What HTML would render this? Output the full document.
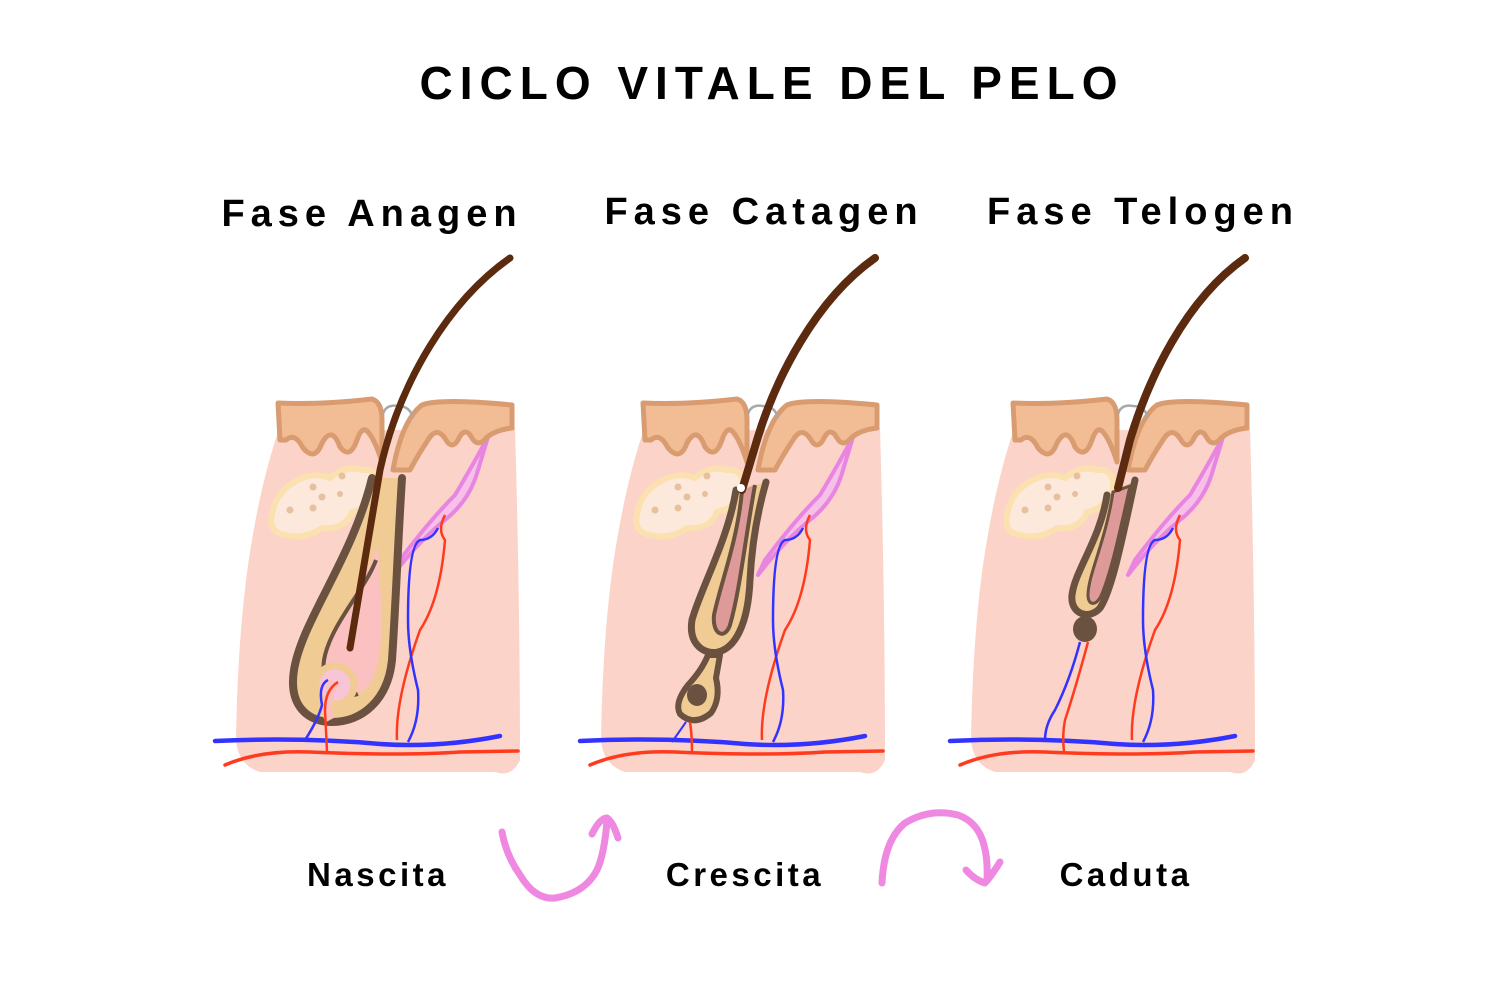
<!DOCTYPE html>
<html><head><meta charset="utf-8"><style>
html,body{margin:0;padding:0;background:#fff;width:1500px;height:1000px;overflow:hidden}
svg{display:block}
text{font-family:"Liberation Sans",sans-serif;font-weight:bold;fill:#000}
</style></head><body>
<svg width="1500" height="1000" viewBox="0 0 1500 1000" xmlns="http://www.w3.org/2000/svg">
<defs>
<g id="base">
  <path d="M278,432 L515,428 Q520,600 520,760 Q512,778 495,772 L260,772 Q238,765 236,740 Q238,620 252,540 Q262,480 278,432 Z" fill="#fcd3c8"/>
  <path d="M290,485 Q310,470 330,478 Q345,465 362,470 Q380,468 378,490 Q368,510 352,512 Q345,530 322,528 Q305,540 285,535 Q268,532 272,515 Q275,495 290,485 Z" fill="#fde9dc" stroke="#fbe0b0" stroke-width="6"/>
  <g fill="#e6c09f"><circle cx="313" cy="487" r="3.5"/><circle cx="342" cy="476" r="3.5"/><circle cx="322" cy="497" r="3.5"/><circle cx="340" cy="494" r="3"/><circle cx="290" cy="510" r="3.5"/><circle cx="313" cy="508" r="3.5"/></g>
  <path d="M488,437 Q470,470 455,495 Q430,520 400,560 L393,575 Q420,540 445,520 Q470,500 478,470 Z" fill="#f7c0e8" stroke="#e885e0" stroke-width="4" stroke-linejoin="round"/>
  <path d="M445,515 Q437,530 445,540 Q440,600 420,630 Q395,700 397,740" fill="none" stroke="#ff3b1f" stroke-width="2.5"/>
  <path d="M438,528 Q432,540 420,540 Q408,545 408,620 Q408,650 418,690 Q420,720 408,742" fill="none" stroke="#3333ff" stroke-width="2.5"/>
  <path d="M215,741 Q300,737 380,744 Q440,748 500,736" fill="none" stroke="#3333ff" stroke-width="4.5" stroke-linecap="round"/>
  <path d="M225,765 Q260,750 310,752 Q400,756 460,752 L518,751" fill="none" stroke="#ff3b1f" stroke-width="3.5" stroke-linecap="round"/>
  <path d="M278,403 Q320,405 372,399 Q382,402 382,420 L382,462 Q375,440 368,432 Q362,425 357,440 Q350,460 340,447 Q332,425 322,443 Q315,462 303,448 Q295,432 286,440 L280,440 Z" fill="#f2bd94" stroke="#d99b70" stroke-width="5" stroke-linejoin="round"/>
  <path d="M393,470 Q402,420 422,405 Q440,398 512,405 L512,428 Q495,430 486,438 Q478,448 472,438 Q465,425 458,440 Q452,450 446,440 Q437,425 428,440 Q418,455 410,470 Z" fill="#f2bd94" stroke="#d99b70" stroke-width="5" stroke-linejoin="round"/>
  <path d="M383,414 Q386,404 398,406 Q410,406 413,418" fill="none" stroke="#a8a8a8" stroke-width="2.5"/>
</g>
</defs>

<text x="772" y="99" font-size="46" text-anchor="middle" letter-spacing="7">CICLO VITALE DEL PELO</text>
<text x="372" y="226" font-size="38" text-anchor="middle" letter-spacing="6">Fase Anagen</text>
<text x="764" y="224" font-size="38" text-anchor="middle" letter-spacing="6">Fase Catagen</text>
<text x="1143" y="224" font-size="38" text-anchor="middle" letter-spacing="6">Fase Telogen</text>

<!-- Panel 1 -->
<use href="#base"/>
<path d="M372,478 C352,560 302,620 294,670 C288,708 310,722 332,722 C362,722 388,700 392,660 C396,600 398,540 402,478 Z" fill="#f0cc94"/>
<path d="M372,478 C352,560 302,620 294,670 C288,708 310,722 332,722 C362,722 388,700 392,660 C396,600 398,540 402,478" fill="none" stroke="#6b5240" stroke-width="8" stroke-linecap="round"/>
<path d="M378,545 C362,590 330,625 324,660 C320,690 340,700 358,694 C376,686 381,660 382,620 Z" fill="#fbc0c0"/>
<path d="M376,560 C365,590 330,625 324,660 C320,690 340,700 358,694" fill="none" stroke="#6b5240" stroke-width="4"/>
<circle cx="335" cy="685" r="19" fill="#f8c4d8" stroke="#f0cc94" stroke-width="7"/>
<path d="M330,720 Q322,705 335,682" fill="none" stroke="#fbc0c0" stroke-width="10"/>
<path d="M328,680 Q318,685 322,705 Q318,720 305,740" fill="none" stroke="#3333ff" stroke-width="2.5"/>
<path d="M338,682 Q325,690 325,710 L327,752" fill="none" stroke="#ff3b1f" stroke-width="2.5"/>
<path d="M510,258 C450,300 400,380 380,470 L350,648" fill="none" stroke="#5c2a0e" stroke-width="7" stroke-linecap="round"/>

<!-- Panel 2 -->
<use href="#base" transform="translate(365,0)"/>
<path d="M736,490 C728,540 700,590 692,620 C688,645 705,655 718,652 C735,648 748,625 750,580 C752,540 758,510 766,482 Z" fill="#f0cc94"/>
<path d="M736,490 C728,540 700,590 692,620 C688,645 705,655 718,652 C735,648 748,625 750,580 C752,540 758,510 766,482" fill="none" stroke="#6b5240" stroke-width="7" stroke-linecap="round"/>
<path d="M742,490 C738,540 720,585 714,615 C712,635 725,640 730,625 C740,590 745,540 755,485 Z" fill="#dd9a98"/>
<path d="M742,490 C738,540 720,585 714,615 C712,635 725,640 730,625 C740,590 745,540 755,485" fill="none" stroke="#6b5240" stroke-width="4"/>
<path d="M708,655 Q702,670 688,685 Q674,703 680,714 Q694,727 711,713 Q721,699 716,678 L720,655 Z" fill="#f0cc94" stroke="#6b5240" stroke-width="6" stroke-linejoin="round"/>
<ellipse cx="697" cy="695" rx="10" ry="11" fill="#6b5240"/>
<path d="M686,722 L672,742" stroke="#3333ff" stroke-width="2" fill="none"/>
<path d="M690,722 Q692,735 692,752" stroke="#ff3b1f" stroke-width="2.5" fill="none"/>
<path d="M875,258 C815,300 775,380 757,440 L742,490" fill="none" stroke="#5c2a0e" stroke-width="8" stroke-linecap="round"/>
<circle cx="741" cy="488" r="4" fill="#fff"/>

<!-- Panel 3 -->
<use href="#base" transform="translate(735,0)"/>
<path d="M1107,495 C1100,540 1075,570 1072,595 C1070,615 1090,620 1100,608 C1112,590 1122,540 1135,480 Z" fill="#f0cc94"/>
<path d="M1107,495 C1100,540 1075,570 1072,595 C1070,615 1090,620 1100,608 C1112,590 1122,540 1135,480" fill="none" stroke="#6b5240" stroke-width="7" stroke-linecap="round"/>
<path d="M1113,492 C1106,540 1088,575 1088,595 C1088,606 1096,606 1101,596 C1112,570 1120,530 1130,486 Z" fill="#dd9a98" stroke="#6b5240" stroke-width="3"/>
<ellipse cx="1085" cy="629" rx="12" ry="13" fill="#6b5240"/>
<path d="M1080,642 Q1070,680 1055,710 Q1045,725 1045,740" stroke="#3333ff" stroke-width="2.5" fill="none"/>
<path d="M1088,642 Q1075,690 1065,720 Q1062,735 1064,752" stroke="#ff3b1f" stroke-width="2.5" fill="none"/>
<path d="M1245,258 C1185,300 1148,380 1130,440 L1118,488" fill="none" stroke="#5c2a0e" stroke-width="8" stroke-linecap="round"/>

<text x="378" y="886" font-size="33" text-anchor="middle" letter-spacing="3.5">Nascita</text>
<text x="745" y="886" font-size="33" text-anchor="middle" letter-spacing="3.5">Crescita</text>
<text x="1126" y="886" font-size="33" text-anchor="middle" letter-spacing="3.5">Caduta</text>

<g fill="none" stroke="#ee88e0" stroke-width="7" stroke-linecap="round" stroke-linejoin="round">
  <path d="M502,832 Q506,855 520,875 Q535,900 555,898 Q585,893 597,870 Q604,855 607,822"/>
  <path d="M592,834 Q600,818 607,818 Q613,822 618,838"/>
  <path d="M882,883 Q884,840 905,823 Q930,808 958,815 Q978,822 984,845 Q988,860 987,880"/>
  <path d="M966,870 Q975,880 985,883 Q992,875 1000,862"/>
</g>
</svg>
</body></html>
